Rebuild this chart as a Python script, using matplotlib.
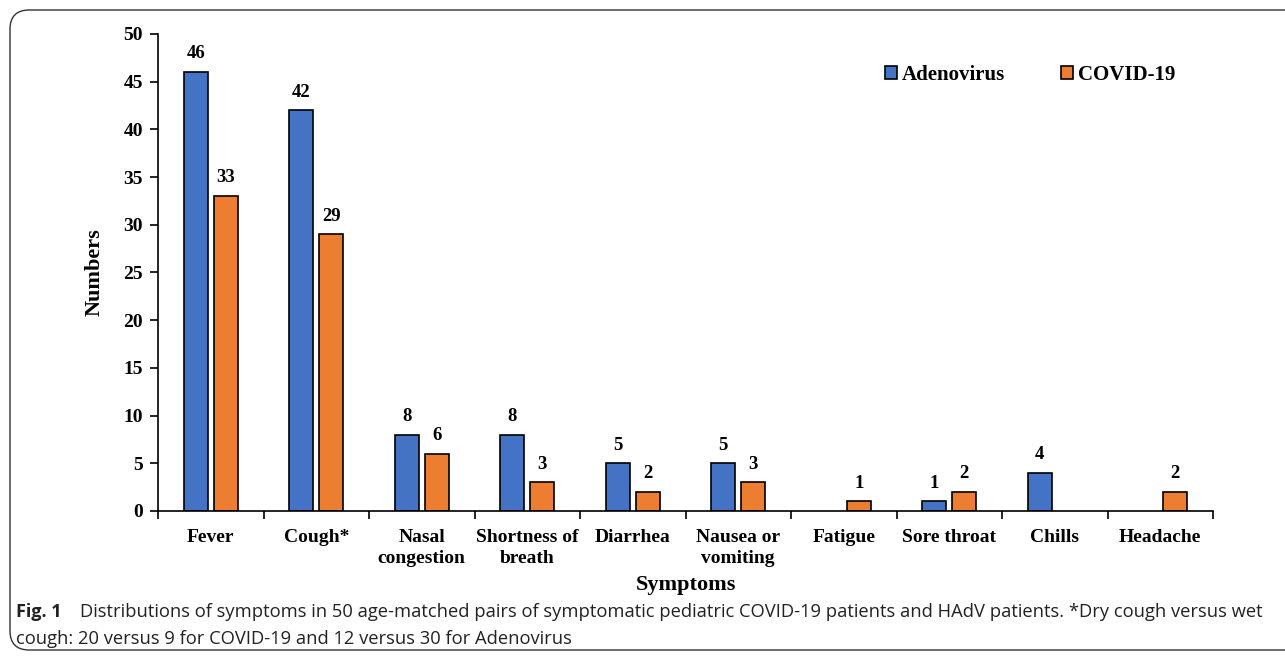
import matplotlib.pyplot as plt
import numpy as np
from matplotlib.patches import FancyBboxPatch

symptoms = ['Fever', 'Cough*', 'Nasal\ncongestion', 'Shortness of\nbreath', 'Diarrhea',
            'Nausea or\nvomiting', 'Fatigue', 'Sore throat', 'Chills', 'Headache']
adenovirus = [46, 42, 8, 8, 5, 5, 0, 1, 4, 0]
covid = [33, 29, 6, 3, 2, 3, 1, 2, 0, 2]

blue = '#4472C4'
orange = '#ED7D31'
serif = 'Liberation Serif'

fig = plt.figure(figsize=(12.85, 6.6), dpi=100)
ax = fig.add_axes([0.123, 0.2258, 0.821, 0.7227])

x = np.arange(len(symptoms))
w = 0.23
off = 0.142
lw1 = [1.2 if v else 0 for v in adenovirus]
lw2 = [1.2 if v else 0 for v in covid]
b1 = ax.bar(x - off, adenovirus, w, color=blue, edgecolor='black', linewidth=lw1, label='Adenovirus')
b2 = ax.bar(x + off, covid, w, color=orange, edgecolor='black', linewidth=lw2, label='COVID-19')

# labels above bars, skip zeros
for bars, vals in ((b1, adenovirus), (b2, covid)):
    for b, v in zip(bars, vals):
        if v == 0:
            continue
        ax.annotate(str(v), xy=(b.get_x() + b.get_width()/2, v), xytext=(0, 7),
                    textcoords='offset points', ha='center', va='bottom',
                    fontsize=13.5, fontweight='bold', family=serif)

ax.set_xlim(-0.5, len(symptoms) - 0.5)
ax.set_ylim(0, 50)
ax.set_yticks(range(0, 51, 5))
ax.set_xticks(x)
ax.set_xticklabels(symptoms, fontsize=14, fontweight='bold', family=serif, linespacing=1.3)
ax.set_xticks(np.arange(-0.5, len(symptoms)), minor=True)
ax.tick_params(axis='x', which='major', length=0, pad=13)
ax.tick_params(axis='x', which='minor', length=6, width=1.2, direction='out')
ax.tick_params(axis='y', length=6, width=1.2, direction='out', pad=5)
for lab in ax.get_yticklabels():
    lab.set_fontsize(14)
    lab.set_fontweight('bold')
    lab.set_family(serif)

for s in ('top', 'right'):
    ax.spines[s].set_visible(False)
ax.spines['left'].set_linewidth(1.2)
ax.spines['bottom'].set_linewidth(1.2)

ax.set_ylabel('Numbers', fontsize=16, fontweight='bold', family=serif, labelpad=13)
ax.set_xlabel('Symptoms', fontsize=16, fontweight='bold', family=serif, labelpad=6)

leg = ax.legend(loc='upper left', bbox_to_anchor=(0.671, 0.974), ncol=2, frameon=False,
                handlelength=0.6, handleheight=0.6, handletextpad=0.2, columnspacing=2.7,
                prop={'family': serif, 'weight': 'bold', 'size': 15})

# rounded border around figure
box = FancyBboxPatch((10/1285, 10/660), 1300/1285, 640/660,
                     boxstyle='round,pad=0,rounding_size=0.015', transform=fig.transFigure,
                     fill=False, edgecolor='#333333', linewidth=1.0, mutation_aspect=1285/660)
fig.patches.append(box)

fig.text(16/1285, 1 - 612/660, 'Fig. 1', fontsize=13, fontweight='bold', family='Open Sans',
         va='center', ha='left', color='#222222')
fig.text(80/1285, 1 - 612/660,
         'Distributions of symptoms in 50 age-matched pairs of symptomatic pediatric COVID-19 patients and HAdV patients. *Dry cough versus wet',
         fontsize=13.2, family='Open Sans', va='center', ha='left', color='#222222')
fig.text(16/1285, 1 - 639/660, 'cough: 20 versus 9 for COVID-19 and 12 versus 30 for Adenovirus',
         fontsize=13.2, family='Open Sans', va='center', ha='left', color='#222222')

fig.savefig('out.png', dpi=100)
